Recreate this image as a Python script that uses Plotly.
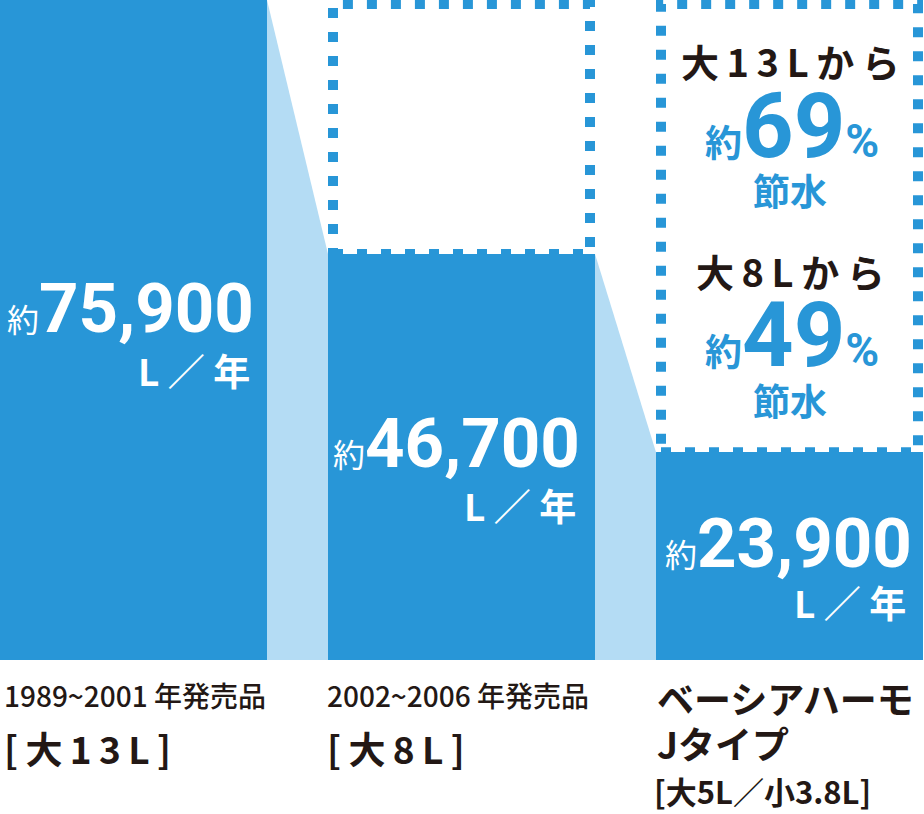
import plotly.graph_objects as go

# water use per year (L)
categories = ['1989~2001 年発売品', '2002~2006 年発売品', 'ベーシアハーモJ']
values = [75900, 46700, 23900]
value_labels = ['75,900', '46,700', '23,900']
sub_labels = ['[大13L]', '[大8L]', '[大5L／小3.8L]']
save_from = ['大13Lから', '大8Lから']
save_pct = [69, 49]

BLUE = '#2896d7'
LIGHT = '#b4dcf4'
DARK = '#231815'
W, H = 924, 814
PLOT_H = 660
bar_w = 267 / 328
TS = '\u2009'  # thin space, used to spread letters a bit

JP = 'Noto Sans CJK JP'
NUM = 'Roboto, Noto Sans CJK JP'


def px(x):
    return x / W


def py(y):
    return 1 - y / PLOT_H


def label(x, y, text, font, xanchor='center'):
    fig.add_annotation(x=px(x), y=py(y), xref='paper', yref='paper',
                       xanchor=xanchor, yanchor='middle', showarrow=False,
                       text=text, font=font)


def spread(s):
    return TS.join(s)


fig = go.Figure()

# light connectors between neighbouring bars
for i in range(len(values) - 1):
    xa = i + bar_w / 2
    xb = i + 1 - bar_w / 2
    fig.add_trace(go.Scatter(x=[xa, xb, xb, xa, xa],
                             y=[values[i], values[i + 1], 0, 0, values[i]],
                             fill='toself', fillcolor=LIGHT, mode='none',
                             hoverinfo='skip', showlegend=False))

fig.add_trace(go.Bar(x=list(range(len(values))), y=values, width=bar_w,
                     marker=dict(color=BLUE, line=dict(width=0)),
                     hoverinfo='skip', showlegend=False))

# dotted boxes showing the saved amount
top = values[0] - 4 / PLOT_H * values[0]
inset = 5 / 328
for i in range(1, len(values)):
    fig.add_shape(type='rect', xref='x', yref='y', layer='below',
                  x0=i - bar_w / 2 + inset, x1=i + bar_w / 2 - inset,
                  y0=values[i], y1=top,
                  line=dict(color=BLUE, width=10, dash='10px,14px'))

# value labels inside bars
val_pos = [(256, 308, 252, 370), (582, 443, 578, 505), (914, 543, 908, 602)]
for (xr, yn, xu, yu), lab in zip(val_pos, value_labels):
    label(xr, yn, '<span style="font-size:32px">約</span><b>' + lab + '</b>',
          dict(family=NUM, size=69, color='white'), 'right')
    label(xu, yu, '<b>L ／ 年</b>',
          dict(family=JP, size=37, color='white'), 'right')

# saving text in the last box
for k, (src, pct) in enumerate(zip(save_from, save_pct)):
    y0 = 60 + k * 210
    label(790, y0, '<b>' + spread(src) + '</b>',
          dict(family=JP, size=38, color=DARK))
    label(792, y0 + 66,
          '<b><span style="font-size:37px">約</span>' + str(pct) +
          '<span style="font-size:46px">%</span></b>',
          dict(family=NUM, size=90, color=BLUE))
    label(790, y0 + 130, '<b>節水</b>', dict(family=JP, size=37, color=BLUE))

# category labels below
label(2, 695, categories[0], dict(family=JP, size=28, color=DARK,
                                  weight=500), 'left')
label(325, 695, categories[1], dict(family=JP, size=28, color=DARK,
                                    weight=500), 'left')
label(2, 748, '<b>' + spread(sub_labels[0]) + '</b>',
      dict(family=JP, size=37, color=DARK), 'left')
label(325, 748, '<b>' + spread(sub_labels[1]) + '</b>',
      dict(family=JP, size=37, color=DARK), 'left')
label(655, 698, '<b>' + categories[2][:-1] + '</b>',
      dict(family=JP, size=37, color=DARK), 'left')
label(655, 743, '<b>' + categories[2][-1] + 'タイプ</b>',
      dict(family=JP, size=37, color=DARK), 'left')
label(652, 790, '<b>' + sub_labels[2] + '</b>',
      dict(family=JP, size=31, color=DARK), 'left')

fig.update_xaxes(range=[-bar_w / 2, -bar_w / 2 + W / 328], visible=False,
                 fixedrange=True)
fig.update_yaxes(range=[0, values[0]], visible=False, fixedrange=True)
fig.update_layout(width=W, height=H, bargap=0,
                  margin=dict(l=0, r=0, t=0, b=H - PLOT_H, pad=0),
                  paper_bgcolor='white', plot_bgcolor='white')

fig.write_html("out.html", config={'displayModeBar': False},
               post_script="document.body.style.margin='0';")
